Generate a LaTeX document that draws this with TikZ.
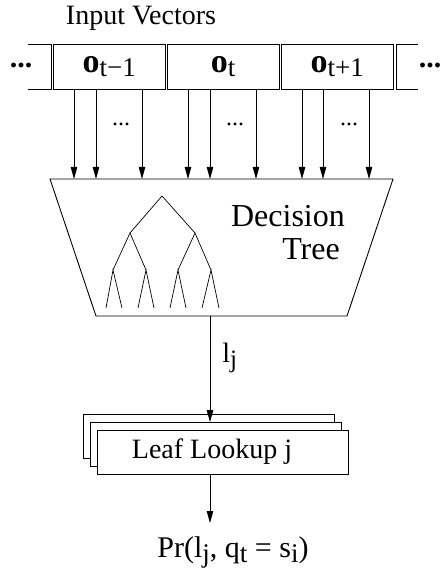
\documentclass[tikz,border=0pt]{standalone}
\usepackage{fontspec}
\setmainfont{Liberation Serif}
\usetikzlibrary{arrows.meta}
% lowered, smaller subscript text
\newcommand{\lowtext}[3]{\raisebox{-#1}{\fontsize{#2}{#2}\selectfont #3}}
% label of one input vector: bold o with a lowered index
\newcommand{\vecname}[1]{\raisebox{-3pt}{\fontsize{34}{34}\selectfont\bfseries o\lowtext{4pt}{27}{\mdseries #1}}}
\begin{document}
\begin{tikzpicture}[x=1pt,y=-1pt,line width=0.9pt,
  arr/.style={-{Triangle[length=12pt,width=6.5pt]}},
  vecbox/.style={draw,minimum width=111.5pt,minimum height=45pt,inner sep=0pt,anchor=north west},
  leafbox/.style={draw,fill=white,minimum width=251pt,minimum height=44pt,inner sep=0pt,anchor=north west},
  bigtxt/.style={font=\fontsize{28}{30}\selectfont,inner sep=0pt},
  treetxt/.style={font=\fontsize{32}{33}\selectfont,inner sep=0pt,anchor=base},
  dotstxt/.style={font=\fontsize{30}{30}\selectfont\bfseries,inner sep=0pt},
  gaptxt/.style={font=\fontsize{24}{24}\selectfont,inner sep=0pt}]
\useasboundingbox (0,0) rectangle (440,569);

% title
\node[bigtxt] (title) at (141,18) {Input Vectors};

% input vectors
\draw (28,44) -- (51,44) -- (51,89) -- (28,89);
\draw (418,44) -- (396,44) -- (396,89) -- (418,89);
\node[dotstxt] (ldots) at (21,65) {...};
\node[dotstxt] (rdots) at (430,65) {...};
\node[vecbox] (vprev) at (53,44) {\vecname{t\char"2212 1}};
\node[vecbox] (vcur) at (167,44) {\vecname{t}};
\node[vecbox] (vnext) at (281,44) {\vecname{t+1}};

% decision tree block
\draw (50,179) -- (393,179) -- (347,316) -- (96,316) -- cycle;
\foreach \i/\x in {1/74,2/96,3/142,4/188,5/210,6/256,7/302,8/323,9/369}
  \coordinate (in\i) at (\x,179);
\foreach \i in {1,2,3}
  \draw[arr] (in\i |- vprev.south) -- (in\i);
\foreach \i in {4,5,6}
  \draw[arr] (in\i |- vcur.south) -- (in\i);
\foreach \i in {7,8,9}
  \draw[arr] (in\i |- vnext.south) -- (in\i);
\node[gaptxt] (d1) at (121,124) {...};
\node[gaptxt] (d2) at (235,124) {...};
\node[gaptxt] (d3) at (349,124) {...};

% the tree
\coordinate (r) at (162,196);
\coordinate (a) at (130,233); \coordinate (b) at (195,233);
\coordinate (aa) at (113,270); \coordinate (ab) at (146,270);
\coordinate (ba) at (178,270); \coordinate (bb) at (211,270);
\draw[line width=0.7pt] (a) -- (r) -- (b);
\draw[line width=0.7pt] (aa) -- (a) -- (ab);
\draw[line width=0.7pt] (ba) -- (b) -- (bb);
\draw[line width=0.7pt] (106,308) -- (aa) -- (122,308);
\draw[line width=0.7pt] (138,308) -- (ab) -- (154,308);
\draw[line width=0.7pt] (170,308) -- (ba) -- (186,308);
\draw[line width=0.7pt] (202,308) -- (bb) -- (219,308);
\node[treetxt] (dtop) at (288,226) {Decision};
\node[treetxt] (dbot) at (311,259) {Tree};

% leaf lookup tables
\coordinate (dtout) at (210,316);
\node[leafbox] (lback) at (83,414) {};
\node[leafbox] (lmid) at (90,422) {};
\node[leafbox] (lfront) at (97,430) {};
\node[bigtxt] (leaftxt) at (212,452) {Leaf Lookup j};
\draw[arr] (dtout) -- (dtout |- lmid.north);
\node[bigtxt,anchor=base west] (lj) at (222,362) {l\lowtext{5pt}{25}{j}};

% output probability
\coordinate (prin) at (210,523);
\draw[arr] (lfront.south -| dtout) -- (prin);
\node[font=\fontsize{30}{32}\selectfont,inner sep=0pt,anchor=base] (pr) at (233,557)
  {Pr(l\lowtext{5pt}{27}{j}, q\lowtext{5pt}{27}{t} = s\lowtext{5pt}{27}{i})};
\end{tikzpicture}
\end{document}
